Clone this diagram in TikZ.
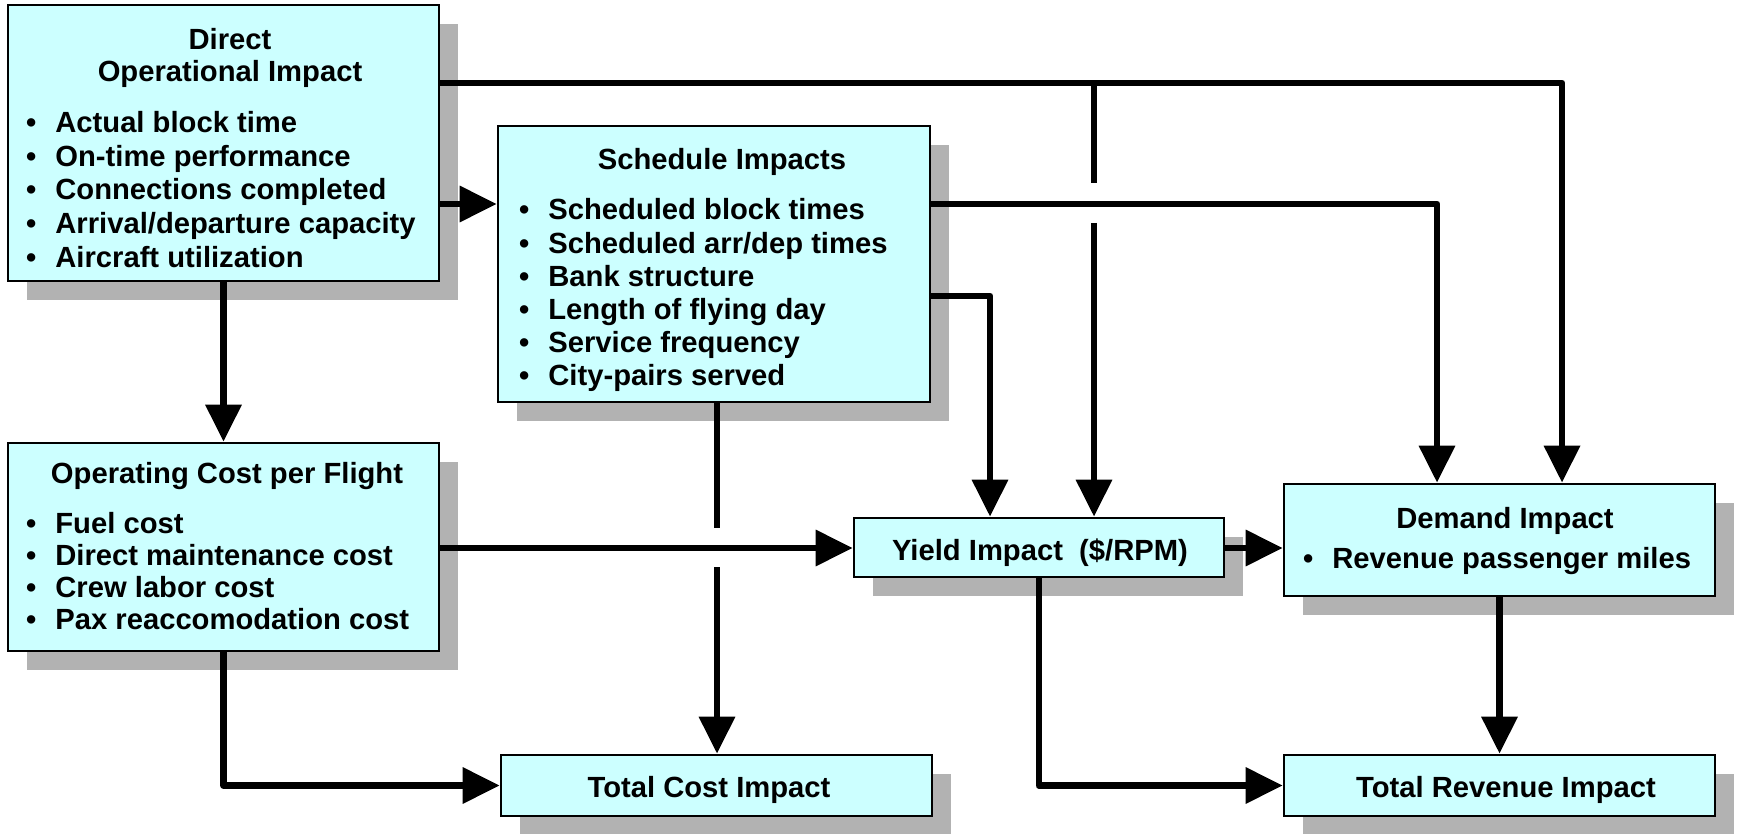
\documentclass[tikz,border=0pt]{standalone}
\usepackage{fontspec}
\setmainfont{Liberation Sans}
\usetikzlibrary{arrows.meta,fit,shadows}
\definecolor{boxfill}{HTML}{CCFFFF}
\definecolor{shadowgrey}{HTML}{B2B2B2}
\begin{document}
\begin{tikzpicture}[x=0.5pt,y=-0.5pt,
  box/.style={draw=black, line width=1.35pt, fill=boxfill, inner sep=0pt,
    drop shadow={shadow xshift=9.5pt, shadow yshift=-9.5pt, opacity=1, fill=shadowgrey}},
  ttl/.style={anchor=base, inner sep=0pt, font=\fontsize{14.6}{16}\selectfont\bfseries},
  itm/.style={anchor=base west, inner sep=0pt, font=\fontsize{14.6}{16}\selectfont\bfseries,
    execute at begin node={\llap{\textbullet\hspace{9.5pt}}}},
  wire/.style={line width=3.35pt, line join=round},
  conn/.style={wire, -{Triangle[length=18.5pt,width=17.5pt]}}]
\useasboundingbox (0,0) rectangle (1738,834);
% boxes
\node[box, fit={(8,5) (439,281)}] (dir) {};
\node[box, fit={(498,126) (930,402)}] (sch) {};
\node[box, fit={(8,443) (439,651)}] (opc) {};
\node[box, fit={(854,518) (1224,577)}] (yld) {};
\node[box, fit={(1284,484) (1715,596)}] (dem) {};
\node[box, fit={(1284,755) (1715,816)}] (trv) {};
\node[box, fit={(501,755) (932,816)}] (tci) {};
% titles
\node[ttl] (dirT1) at (230,50) {Direct};
\node[ttl] (dirT2) at (230,82) {Operational Impact};
\node[ttl] (schT) at (722,170) {Schedule Impacts};
\node[ttl] (opcT) at (227,483) {Operating Cost per Flight};
\node[ttl] (yldT) at (1040,560) {Yield Impact\ \ (\$/RPM)};
\node[ttl] (demT) at (1505,528) {Demand Impact};
\node[ttl] (trvT) at (1506,797) {Total Revenue Impact};
\node[ttl] (tciT) at (709,797) {Total Cost Impact};
% items
\foreach \t [count=\i from 0] in {Actual block time,On-time performance,Connections completed,Arrival/departure capacity,Aircraft utilization}
  \node[itm] (dirI\i) at (55,{133+33.5*\i}) {\t};
\foreach \t [count=\i from 0] in {Scheduled block times,Scheduled arr/dep times,Bank structure,Length of flying day,Service frequency,City-pairs served}
  \node[itm] (schI\i) at (548,{220+33*\i}) {\t};
\foreach \t [count=\i from 0] in {Fuel cost,Direct maintenance cost,Crew labor cost,Pax reaccomodation cost}
  \node[itm] (opcI\i) at (55,{533+32.3*\i}) {\t};
\node[itm] (demI0) at (1332,568) {Revenue passenger miles};
% helper coordinates
\coordinate (t1) at (1562,83);
\coordinate (t2) at (1094,83);
\coordinate (g1) at (1094,183);
\coordinate (g2) at (1094,223);
\coordinate (h204) at (0,204);
\coordinate (h548) at (0,548);
\coordinate (s1) at (1437,204);
\coordinate (s2) at (990,296);
\coordinate (v1) at (717,528);
\coordinate (v2) at (717,567);
% connectors
\draw[conn] (dir.east |- t1) -- (t1) -- (dem.north -| t1);
\draw[conn] (t2) -- (g1) (g2) -- (yld.north -| t2);
\draw[conn] (dir.east |- h204) -- (sch.west |- h204);
\draw[conn] (dir.south) -- (opc.north);
\draw[conn] (sch.east |- s1) -- (s1) -- (dem.north -| s1);
\draw[conn] (sch.east |- s2) -- (s2) -- (yld.north -| s2);
\draw[conn] (sch.south -| v1) -- (v1) (v2) -- (tci.north -| v2);
\draw[conn] (opc.east |- h548) -- (yld.west |- h548);
\draw[conn] (opc.south) |- (tci.west);
\draw[conn] (yld.east |- h548) -- (dem.west |- h548);
\draw[conn] (yld.south) |- (trv.west);
\draw[conn] (dem.south) -- (trv.north);
\end{tikzpicture}
\end{document}
